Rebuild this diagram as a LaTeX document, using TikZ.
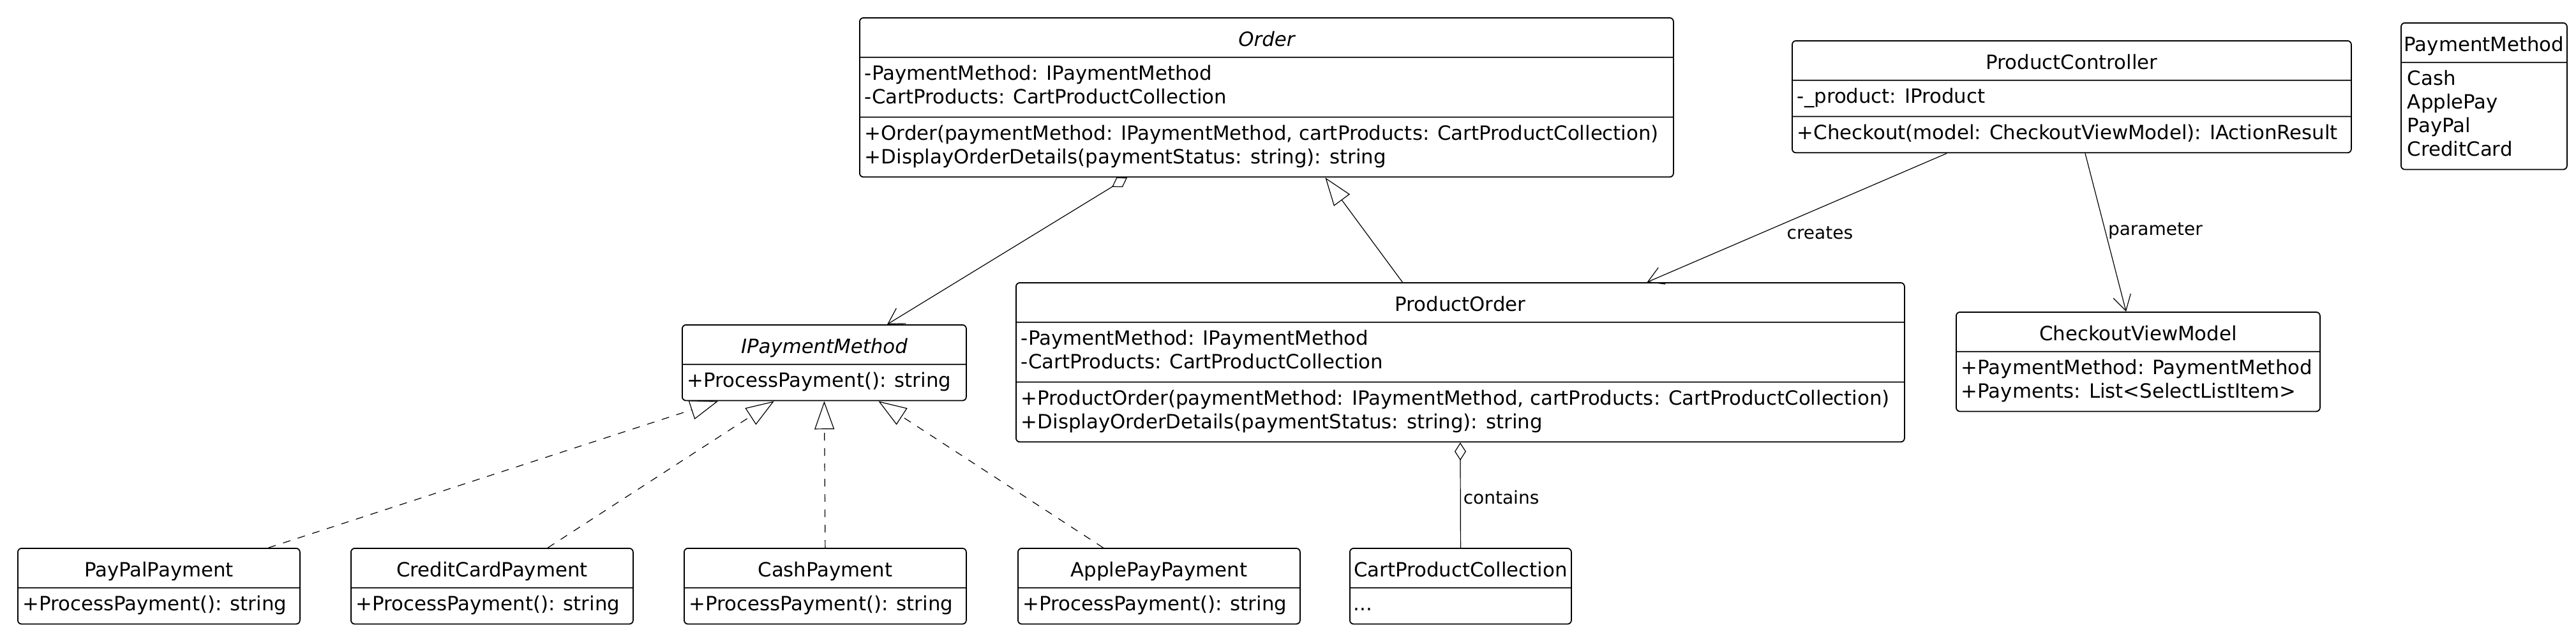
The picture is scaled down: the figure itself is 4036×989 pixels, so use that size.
\documentclass[tikz,border=0pt]{standalone}
\usepackage{fontspec}
\setmainfont{DejaVu Sans}
\usetikzlibrary{shapes.multipart,arrows.meta,calc}

\newcommand\hdstrut{\rule[-1.95pt]{0pt}{10.5pt}}

\begin{document}
\begin{tikzpicture}[x=.25pt,y=-.25pt,
  umlclass/.style={rectangle split,rectangle split parts=#1,draw,line width=.45pt,
    rounded corners=1.5pt,fill=white,anchor=north west,inner xsep=2pt,inner ysep=2.25pt,
    align=left,rectangle split part align={center,left,left},
    font=\fontsize{7.7pt}{9.25pt}\selectfont},
  umlclass/.default=3,
  rel/.style={line width=.3pt},
  lbl/.style={font=\fontsize{7pt}{8pt}\selectfont,inner sep=1pt}]
\useasboundingbox (0,0) rectangle (4036,989);
% classes, top row
\node[umlclass,minimum width=318.75pt] (order) at (1346,27) {\hdstrut\itshape Order
  \nodepart{two}\strut -PaymentMethod: IPaymentMethod\\-CartProducts: CartProductCollection\strut
  \nodepart{three}\strut +Order(paymentMethod: IPaymentMethod, cartProducts: CartProductCollection)\\+DisplayOrderDetails(paymentStatus: string): string\strut};
\node[umlclass,minimum width=219pt] (ctrl) at (2807,63) {\hdstrut ProductController
  \nodepart{two}\strut -\_product: IProduct\strut
  \nodepart{three}\strut +Checkout(model: CheckoutViewModel): IActionResult\strut};
\node[umlclass=2,minimum width=65pt,inner xsep=1pt] (paymethod) at (3761,35) {\hdstrut PaymentMethod
  \nodepart{two}\strut\hspace*{1.5pt}Cash\\\hspace*{1.5pt}ApplePay\\\hspace*{1.5pt}PayPal\\\hspace*{1.5pt}CreditCard\strut};
% middle row
\node[umlclass,minimum width=348pt] (porder) at (1591,442) {\hdstrut ProductOrder
  \nodepart{two}\strut -PaymentMethod: IPaymentMethod\\-CartProducts: CartProductCollection\strut
  \nodepart{three}\strut +ProductOrder(paymentMethod: IPaymentMethod, cartProducts: CartProductCollection)\\+DisplayOrderDetails(paymentStatus: string): string\strut};
\node[umlclass=2,minimum width=111.25pt] (ipay) at (1068,508) {\hdstrut\itshape IPaymentMethod
  \nodepart{two}\strut +ProcessPayment(): string\strut};
\node[umlclass=2,minimum width=142.5pt] (cvm) at (3064,488) {\hdstrut CheckoutViewModel
  \nodepart{two}\strut +PaymentMethod: PaymentMethod\\+Payments: List<SelectListItem>\strut};
% bottom row
\node[umlclass=2,minimum width=110.5pt] (paypal) at (27,858) {\hdstrut PayPalPayment
  \nodepart{two}\strut +ProcessPayment(): string\strut};
\node[umlclass=2,minimum width=110.5pt] (credit) at (549,858) {\hdstrut CreditCardPayment
  \nodepart{two}\strut +ProcessPayment(): string\strut};
\node[umlclass=2,minimum width=110.5pt] (cash) at (1071,858) {\hdstrut CashPayment
  \nodepart{two}\strut +ProcessPayment(): string\strut};
\node[umlclass=2,minimum width=110.5pt] (apple) at (1594,858) {\hdstrut ApplePayPayment
  \nodepart{two}\strut +ProcessPayment(): string\strut};
\node[umlclass=2,minimum width=86.75pt,inner xsep=1.5pt] (cart) at (2114,858) {\hdstrut CartProductCollection
  \nodepart{two}\strut ...\strut};
% relations
\draw[rel,{Diamond[open,length=7pt,width=4.5pt]}-{Straight Barb[length=6pt,width=7pt]}]
  ($(order.south west)!.329!(order.south east)$) -- ($(ipay.north west)!.721!(ipay.north east)$);
\draw[rel,-{Triangle[open,length=11pt,width=7.75pt]}]
  ($(porder.north west)!.435!(porder.north east)$) -- ($(order.south west)!.572!(order.south east)$);
\draw[rel,-{Straight Barb[length=6pt,width=7pt]}]
  ($(ctrl.south west)!.277!(ctrl.south east)$) -- node[lbl,pos=.62,right=9pt]{creates}
  ($(porder.north west)!.71!(porder.north east)$);
\draw[rel,-{Straight Barb[length=6pt,width=7pt]}]
  ($(ctrl.south west)!.524!(ctrl.south east)$) -- node[lbl,pos=.49,right]{parameter}
  ($(cvm.north west)!.467!(cvm.north east)$);
\draw[rel,{Diamond[open,length=7pt,width=4.5pt]}-] (porder.south) -- node[lbl,pos=.52,right]{contains} (cart.north);
% realizations
\draw[rel,dashed,-{Triangle[open,length=11pt,width=7.75pt]}]
  ($(paypal.north west)!.887!(paypal.north east)$) -- ($(ipay.south west)!.128!(ipay.south east)$);
\draw[rel,dashed,-{Triangle[open,length=11pt,width=7.75pt]}]
  ($(credit.north west)!.697!(credit.north east)$) -- ($(ipay.south west)!.324!(ipay.south east)$);
\draw[rel,dashed,-{Triangle[open,length=11pt,width=7.75pt]}] (cash.north) -- (ipay.south);
\draw[rel,dashed,-{Triangle[open,length=11pt,width=7.75pt]}]
  ($(apple.north west)!.303!(apple.north east)$) -- ($(ipay.south west)!.69!(ipay.south east)$);
\end{tikzpicture}
\end{document}
